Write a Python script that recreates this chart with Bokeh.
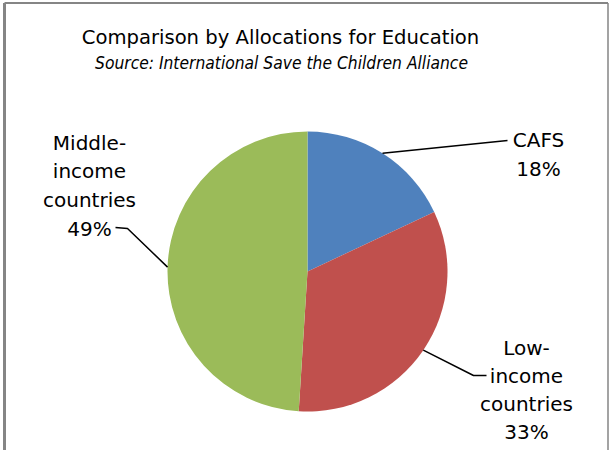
import math
from bokeh.plotting import figure
from bokeh.models import Range1d, ColumnDataSource
from bokeh.embed import file_html
from bokeh.resources import INLINE
from bokeh.core.properties import value

# ---- data ----
categories = ["CAFS", "Low-income countries", "Middle-income countries"]
display_names = [["CAFS"], ["Low-", "income", "countries"], ["Middle-", "income", "countries"]]
shares = [18, 33, 49]
colors = ["#4F81BD", "#C0504D", "#9BBB59"]
title_text = "Comparison by Allocations for Education"
subtitle_text = "Source: International Save the Children Alliance"

# ---- layout (screen pixel coordinates of the 610x450 page; data y = 450 - Y) ----
W, H = 610, 450
def sy(Y):
    return H - Y

CX, CY, R = 307, 271, 140
# label centre x, first baseline Y, line spacing
label_pos = [(538, 139, 29), (526, 347, 28.3), (89, 142, 28.7)]
# leader line: elbow and end point (screen coords)
leader_tail = [[(507, 140)], [(473, 375), (486, 375)], [(127, 228), (115, 227)]]

p = figure(width=W, height=H, x_range=Range1d(0, W), y_range=Range1d(0, H),
           output_backend="svg", toolbar_location=None, min_border=0,
           x_axis_location=None, y_axis_location=None)
p.grid.visible = False
p.outline_line_color = None
p.background_fill_color = "white"
p.border_fill_color = "white"

# chart frame (open at the bottom, as in the reference crop)
p.multi_line(xs=[[4, 4], [4, 607.5], [607.5, 607.5]],
             ys=[[sy(470), sy(2.5)], [sy(2.5), sy(2.5)], [sy(2.5), sy(470)]],
             line_color="#858585", line_width=[3, 1.8, 1.5])

total = sum(shares)
starts, ends, mids = [], [], []
acc = 0
for s in shares:
    a0 = math.pi / 2 - 2 * math.pi * acc / total
    a1 = a0 - 2 * math.pi * s / total
    starts.append(a0)
    ends.append(a1)
    mids.append((a0 + a1) / 2)
    acc += s

src = ColumnDataSource(dict(cat=categories, share=shares, start=starts, end=ends, color=colors))
p.wedge(x=CX, y=sy(CY), radius=R, start_angle="start", end_angle="end", direction="clock",
        fill_color="color", line_color=None, source=src)

# leader lines
xs, ys = [], []
for m, tail in zip(mids, leader_tail):
    px = [CX + R * math.cos(m)] + [t[0] for t in tail]
    py = [sy(CY) + R * math.sin(m)] + [sy(t[1]) for t in tail]
    xs.append(px)
    ys.append(py)
p.multi_line(xs=xs, ys=ys, line_color="black", line_width=1.5)

# labels
lx, ly, lt = [], [], []
for names, s, (x0, y0, dy) in zip(display_names, shares, label_pos):
    lines = names + [f"{s}%"]
    for i, t in enumerate(lines):
        lx.append(x0)
        ly.append(sy(y0 + i * dy))
        lt.append(t)
p.text(x=lx, y=ly, text=lt, text_align="center", text_baseline="alphabetic",
       text_font=value("DejaVu Sans"), text_font_size="20px", text_color="black")

# title and subtitle
p.text(x=[280], y=[sy(37)], text=[title_text], text_align="center", text_baseline="alphabetic",
       text_font=value("DejaVu Sans"), text_font_size="19.6px", text_color="black")
p.text(x=[281], y=[sy(62)], text=[subtitle_text], text_align="center", text_baseline="alphabetic",
       text_font=value("DejaVu Sans Condensed"), text_font_style="italic",
       text_font_size="17.3px", text_color="black")

open("out.html", "w").write(file_html(p, INLINE))
